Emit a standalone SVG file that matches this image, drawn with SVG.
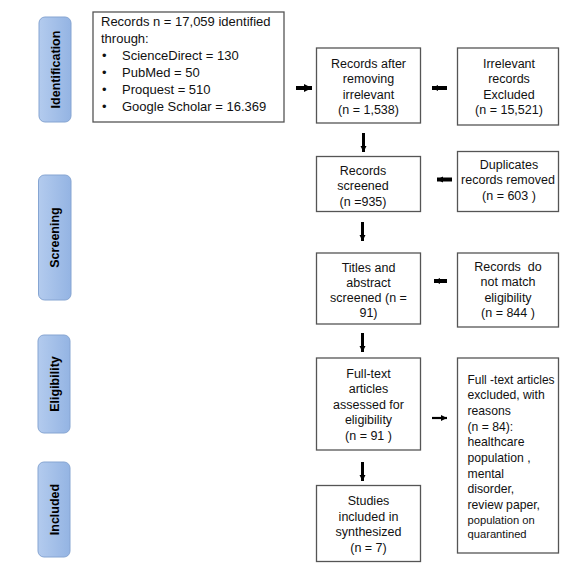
<svg xmlns="http://www.w3.org/2000/svg" width="576" height="565" viewBox="0 0 576 565">
<defs>
<linearGradient id="bar" x1="0" y1="0" x2="1" y2="0">
<stop offset="0" stop-color="#b3cbee"/>
<stop offset="1" stop-color="#94b4e3"/>
</linearGradient>
<marker id="ah" viewBox="0 0 10 10" refX="10" refY="5" markerWidth="8" markerHeight="9" markerUnits="userSpaceOnUse" orient="auto">
<path d="M0,0 L10,5 L0,10 Z" fill="#000"/>
</marker>
<marker id="ahs" viewBox="0 0 10 10" refX="10" refY="5" markerWidth="6" markerHeight="7" markerUnits="userSpaceOnUse" orient="auto">
<path d="M0,0 L10,5 L0,10 Z" fill="#000"/>
</marker>
</defs>
<style>
.box{fill:#fff;stroke:#555;stroke-width:1.3}
.bar{fill:url(#bar);stroke:#86a5d2;stroke-width:1}
.bt{font-family:"Liberation Sans",Arial,sans-serif;font-weight:bold;font-size:12.5px;fill:#000;text-anchor:middle}
.t{font-family:"Liberation Sans",Arial,sans-serif;font-size:12.5px;fill:#111;text-anchor:middle}
.tl{font-family:"Liberation Sans",Arial,sans-serif;font-size:12.2px;fill:#111}
.ts{font-family:"Liberation Sans",Arial,sans-serif;font-size:11.2px;fill:#111}
.lt{font-family:"Liberation Sans",Arial,sans-serif;font-size:13px;fill:#111}
.c{stroke:#000;fill:none}
</style>
<rect width="576" height="565" fill="#fff"/>

<g id="bar-identification">
<rect class="bar" x="39" y="17" width="32" height="105" rx="6"/>
<text class="bt" transform="translate(59.5,69.5) rotate(-90)">Identification</text>
</g>
<g id="bar-screening">
<rect class="bar" x="38.5" y="175" width="32.5" height="125" rx="6"/>
<text class="bt" transform="translate(59,237.5) rotate(-90)">Screening</text>
</g>
<g id="bar-eligibility">
<rect class="bar" x="38" y="335" width="32" height="98" rx="6"/>
<text class="bt" transform="translate(58.5,384) rotate(-90)">Eligibility</text>
</g>
<g id="bar-included">
<rect class="bar" x="38" y="462" width="32" height="95" rx="6"/>
<text class="bt" transform="translate(58.5,509.5) rotate(-90)">Included</text>
</g>

<g id="records-identified">
<rect class="box" x="93" y="12" width="191" height="110"/>
<text class="lt" x="101" y="25.5">Records n = 17,059 identified</text>
<text class="lt" x="101" y="42.5">through:</text>
<text class="lt" x="102" y="60">•</text><text class="lt" x="122" y="60">ScienceDirect = 130</text>
<text class="lt" x="102" y="77">•</text><text class="lt" x="122" y="77">PubMed = 50</text>
<text class="lt" x="102" y="94">•</text><text class="lt" x="122" y="94">Proquest = 510</text>
<text class="lt" x="102" y="111">•</text><text class="lt" x="122" y="111">Google Scholar = 16.369</text>
</g>

<g id="records-after-removing">
<rect class="box" x="316.5" y="48" width="104" height="75"/>
<text class="t" x="368.5" y="67.5">Records after</text>
<text class="t" x="368.5" y="83">removing</text>
<text class="t" x="368.5" y="98.5">irrelevant</text>
<text class="t" x="368.5" y="114">(n = 1,538)</text>
</g>
<g id="irrelevant-excluded">
<rect class="box" x="457.5" y="48" width="101" height="77"/>
<text class="t" x="509" y="67.5">Irrelevant</text>
<text class="t" x="509" y="83">records</text>
<text class="t" x="509" y="98.5">Excluded</text>
<text class="t" x="509" y="114">(n = 15,521)</text>
</g>

<g id="records-screened">
<rect class="box" x="316.5" y="156.5" width="104" height="55"/>
<text class="t" x="363" y="174.5">Records</text>
<text class="t" x="363" y="190">screened</text>
<text class="t" x="363" y="205.5">(n =935)</text>
</g>
<g id="duplicates-removed">
<rect class="box" x="457.5" y="151.5" width="101" height="60"/>
<text class="t" x="509" y="168.5">Duplicates</text>
<text class="t" x="508" y="184">records removed</text>
<text class="t" x="509" y="199.5">(n = 603 )</text>
</g>

<g id="titles-abstract-screened">
<rect class="box" x="316.5" y="253" width="104" height="71"/>
<text class="t" x="368.5" y="271.5">Titles and</text>
<text class="t" x="368.5" y="286.5">abstract</text>
<text class="t" x="368.5" y="301.5">screened (n =</text>
<text class="t" x="368.5" y="316.5">91)</text>
</g>
<g id="not-match-eligibility">
<rect class="box" x="457.5" y="253" width="101" height="74"/>
<text class="t" x="508" y="270.5" xml:space="preserve">Records  do</text>
<text class="t" x="508" y="286">not match</text>
<text class="t" x="508" y="301.5">eligibility</text>
<text class="t" x="508" y="317">(n = 844 )</text>
</g>

<g id="full-text-assessed">
<rect class="box" x="316.5" y="358" width="104" height="92"/>
<text class="t" x="368.5" y="377.5">Full-text</text>
<text class="t" x="368.5" y="392.5">articles</text>
<text class="t" x="368.5" y="408.5">assessed for</text>
<text class="t" x="368.5" y="424">eligibility</text>
<text class="t" x="368.5" y="439.5">(n = 91 )</text>
</g>
<g id="full-text-excluded">
<rect class="box" x="457.5" y="358" width="101" height="195"/>
<text class="tl" x="467.5" y="383.5" textLength="87" lengthAdjust="spacingAndGlyphs">Full -text articles</text>
<text class="tl" x="467.5" y="398.5">excluded, with</text>
<text class="tl" x="467.5" y="414.5">reasons</text>
<text class="tl" x="467.5" y="430.5">(n = 84):</text>
<text class="tl" x="467.5" y="445.5">healthcare</text>
<text class="tl" x="467.5" y="461.5">population ,</text>
<text class="tl" x="467.5" y="477.5">mental</text>
<text class="tl" x="467.5" y="492.5">disorder,</text>
<text class="tl" x="467.5" y="508.5">review paper,</text>
<text class="ts" x="467.5" y="524">population on</text>
<text class="ts" x="467.5" y="537.5">quarantined</text>
</g>

<g id="studies-included">
<rect class="box" x="316.5" y="485.5" width="104" height="76"/>
<text class="t" x="368.5" y="505">Studies</text>
<text class="t" x="368.5" y="520.5">included in</text>
<text class="t" x="368.5" y="536">synthesized</text>
<text class="t" x="368.5" y="551.5">(n = 7)</text>
</g>

<g id="connectors">
<line class="c" x1="296" y1="88" x2="312" y2="88" stroke-width="4" marker-end="url(#ah)"/>
<line class="c" x1="447" y1="88" x2="432" y2="88" stroke-width="4" marker-end="url(#ahs)"/>
<line class="c" x1="452" y1="179.5" x2="437" y2="179.5" stroke-width="4" marker-end="url(#ahs)"/>
<line class="c" x1="447" y1="281" x2="434" y2="281" stroke-width="4" marker-end="url(#ahs)"/>
<line class="c" x1="432" y1="418" x2="447" y2="418" stroke-width="2.2" marker-end="url(#ahs)"/>
<line class="c" x1="363.5" y1="133" x2="363.5" y2="152" stroke-width="3" marker-end="url(#ahs)"/>
<line class="c" x1="362.5" y1="222" x2="362.5" y2="241" stroke-width="3" marker-end="url(#ahs)"/>
<line class="c" x1="362.5" y1="333" x2="362.5" y2="352" stroke-width="3" marker-end="url(#ahs)"/>
<line class="c" x1="362.5" y1="462" x2="362.5" y2="481" stroke-width="3" marker-end="url(#ahs)"/>
</g>
</svg>
